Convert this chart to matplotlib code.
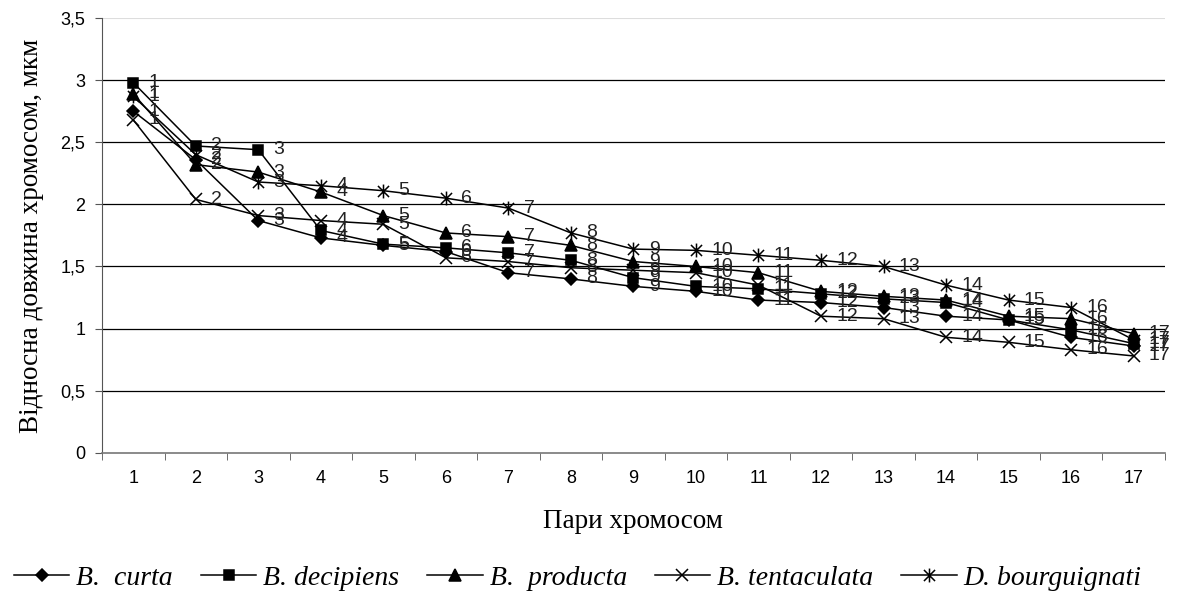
import matplotlib
matplotlib.use("Agg")
import matplotlib.pyplot as plt
from matplotlib.path import Path
import numpy as np

pairs = list(range(1, 18))
curta = [2.75, 2.36, 1.87, 1.73, 1.67, 1.62, 1.45, 1.40, 1.34, 1.30, 1.23, 1.21, 1.17, 1.10, 1.07, 0.93, 0.86]
decipiens = [2.98, 2.47, 2.44, 1.79, 1.68, 1.65, 1.61, 1.55, 1.41, 1.34, 1.32, 1.28, 1.24, 1.21, 1.07, 0.99, 0.88]
producta = [2.89, 2.32, 2.26, 2.10, 1.91, 1.77, 1.74, 1.67, 1.54, 1.50, 1.45, 1.30, 1.26, 1.23, 1.10, 1.08, 0.96]
tentaculata = [2.68, 2.04, 1.91, 1.87, 1.84, 1.57, 1.54, 1.49, 1.47, 1.45, 1.35, 1.10, 1.08, 0.93, 0.89, 0.83, 0.78]
bourguignati = [2.87, 2.40, 2.18, 2.15, 2.11, 2.05, 1.97, 1.77, 1.64, 1.63, 1.59, 1.55, 1.50, 1.35, 1.23, 1.17, 0.91]

# Excel-style star: an X plus a vertical bar
star = Path([(-1, -1), (1, 1), (-1, 1), (1, -1), (0, -1.25), (0, 1.25)],
            [Path.MOVETO, Path.LINETO, Path.MOVETO, Path.LINETO, Path.MOVETO, Path.LINETO])

series = [
    ("B.  curta", curta, "D", 6.5),
    ("B. decipiens", decipiens, "s", 7),
    ("B.  producta", producta, "^", 8),
    ("B. tentaculata", tentaculata, "x", 9),
    ("D. bourguignati", bourguignati, star, 10),
]
yticks = [0, 0.5, 1, 1.5, 2, 2.5, 3, 3.5]
ytick_labels = ["0", "0,5", "1", "1,5", "2", "2,5", "3", "3,5"]

fig = plt.figure(figsize=(11.79, 6.12), dpi=100)
ax = fig.add_axes([0.0865, 0.26, 0.9015, 0.7106])

x = np.arange(len(pairs))
handles = []
for name, vals, mk, ms in series:
    h, = ax.plot(x, vals, color="black", lw=1.1, marker=mk, ms=ms,
                 mfc="black", mec="black", mew=1.1, label=name, zorder=3)
    handles.append(h)
    for xi, v, p in zip(x, vals, pairs):
        ax.annotate(str(p), (xi, v), xytext=(11, 0), textcoords="offset points",
                    ha="left", va="center", fontsize=14, color="#222222",
                    family="Liberation Sans", zorder=4)

ax.set_xlim(-0.5, len(pairs) - 0.5)
ax.set_ylim(0, 3.5)
ax.set_yticks(yticks)
ax.set_yticklabels(ytick_labels, family="Liberation Sans", fontsize=13)
ax.set_xticks(x)
ax.set_xticklabels([str(p) for p in pairs], family="Liberation Sans", fontsize=13)
ax.set_xticks(np.arange(-0.5, len(pairs), 1), minor=True)
ax.tick_params(axis="x", which="major", length=0, pad=12)
ax.tick_params(axis="x", which="minor", length=5, color="#555555")
ax.tick_params(axis="y", length=5, color="#555555", pad=7)
for yv in yticks[1:-1]:
    ax.axhline(yv, color="black", lw=0.9, zorder=1)
ax.axhline(3.5, color="#dddddd", lw=0.8, zorder=1)
for s in ["top", "right"]:
    ax.spines[s].set_visible(False)
ax.spines["left"].set_color("#555555")
ax.spines["bottom"].set_color("#777777")
ax.spines["bottom"].set_linewidth(1.2)

ax.set_xlabel("Пари хромосом", family="Liberation Serif", fontsize=19.5, labelpad=16)
ax.set_ylabel("Відносна довжина хромосом, мкм", family="Liberation Serif", fontsize=19.5, labelpad=12)

fig.legend(handles=handles, loc="center", bbox_to_anchor=(0.49, 0.055), ncol=5,
           frameon=False, prop={"family": "Liberation Serif", "style": "italic", "size": 20},
           handlelength=2.0, handletextpad=0.25, columnspacing=1.0)

fig.savefig("out.png", dpi=100)
